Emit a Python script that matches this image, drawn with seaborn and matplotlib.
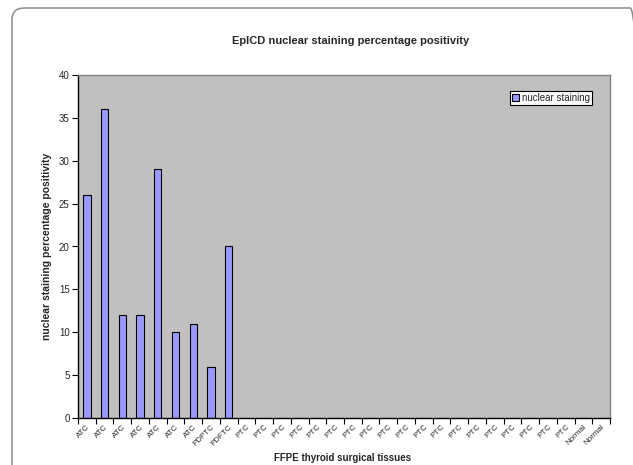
import matplotlib
matplotlib.use("Agg")
import matplotlib.pyplot as plt
import numpy as np
import pandas as pd
import seaborn as sns
from matplotlib.patches import FancyBboxPatch

# Tissue type of each FFPE surgical specimen, in slide order
tissues = ["ATC", "ATC", "ATC", "ATC", "ATC", "ATC", "ATC",
           "PDPTC", "PDFTC",
           "PTC", "PTC", "PTC", "PTC", "PTC", "PTC", "PTC", "PTC", "PTC", "PTC",
           "PTC", "PTC", "PTC", "PTC", "PTC", "PTC", "PTC", "PTC", "PTC",
           "Normal", "Normal"]

# Percentage of cells with nuclear EpICD staining
nuclear_staining = [26, 36, 12, 12, 29, 10, 11,
                    6, 20,
                    0, 0, 0, 0, 0, 0, 0, 0, 0, 0,
                    0, 0, 0, 0, 0, 0, 0, 0, 0,
                    0, 0]

y_ticks = [0, 5, 10, 15, 20, 25, 30, 35, 40]

sns.set_style("white")
plt.rcParams["font.family"] = ["Liberation Sans", "DejaVu Sans"]

W, H = 633, 465
fig = plt.figure(figsize=(W / 100, H / 100), dpi=100)

# outer chart frame with a rounded corner
frame = FancyBboxPatch((0.12, -0.15), 6.30, 4.72,
                       boxstyle="round,pad=0,rounding_size=0.12",
                       transform=fig.dpi_scale_trans,
                       facecolor="none", edgecolor="#8c8c8c", linewidth=1.1)
fig.patches.append(frame)

left, right, top, bottom = 78, 610, 75, 418
ax = fig.add_axes([left / W, 1 - bottom / H, (right - left) / W, (bottom - top) / H])

df = pd.DataFrame({"slot": np.arange(len(tissues)),
                   "tissue": tissues,
                   "value": nuclear_staining})

sns.barplot(data=df, x="slot", y="value", color="#9999FF", saturation=1,
            edgecolor="black", linewidth=0.8, width=0.41,
            label="nuclear staining", ax=ax)

ax.set_facecolor("#C0C0C0")
n = len(tissues)
ax.set_xlim(-0.5, n - 0.5)
ax.set_ylim(0, 40)
ax.set_yticks(y_ticks)
ax.set_yticklabels([str(v) for v in y_ticks], fontsize=7)

ax.set_xticks(np.arange(n))
ax.set_xticklabels(tissues, rotation=45, ha="right", rotation_mode="anchor",
                   fontsize=5.8)
ax.set_xticks(np.arange(-0.5, n, 1.0), minor=True)
ax.tick_params(axis="x", which="major", length=0, pad=4)
ax.tick_params(axis="x", which="minor", length=4, direction="out",
               width=0.8, color="black", bottom=True)
ax.tick_params(axis="y", which="major", length=4, direction="out",
               width=0.8, color="black", left=True, pad=2)

for side in ("left", "bottom"):
    ax.spines[side].set_color("black")
    ax.spines[side].set_linewidth(1.0)
for side in ("right", "top"):
    ax.spines[side].set_color("#808080")
    ax.spines[side].set_linewidth(1.0)

ax.set_xlabel("")
ax.set_ylabel("")

fig.text(351 / W, 1 - 41 / H, "EpICD nuclear staining percentage positivity",
         ha="center", va="center", fontsize=8, fontweight="bold")
fig.text(47 / W, 1 - 246 / H, "nuclear staining percentage positivity",
         ha="center", va="center", rotation=90, fontsize=7.5, fontweight="bold")
fig.text(343 / W, 1 - 458 / H, "FFPE thyroid surgical tissues",
         ha="center", va="center", fontsize=7, fontweight="bold")

leg = ax.legend(loc="upper left", bbox_to_anchor=(510 / W, 1 - 91 / H),
                bbox_transform=fig.transFigure, fontsize=7,
                frameon=True, fancybox=False, framealpha=1,
                borderpad=0.2, handlelength=0.7, handleheight=0.7,
                handletextpad=0.3, borderaxespad=0)
leg.get_frame().set_edgecolor("black")
leg.get_frame().set_linewidth(0.8)
leg.get_frame().set_facecolor("white")

fig.savefig("out.png", dpi=100)
